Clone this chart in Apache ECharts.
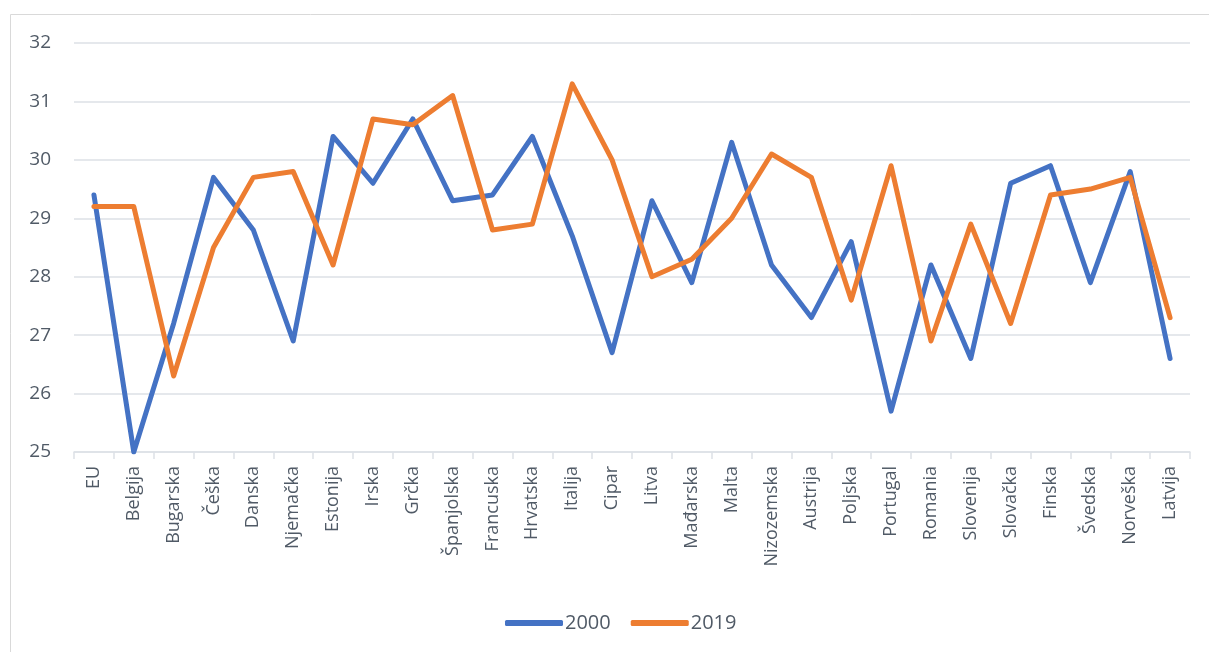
<!DOCTYPE html>
<html>
<head>
<meta charset="utf-8">
<script src="https://cdn.jsdelivr.net/npm/echarts@6/dist/echarts.min.js"></script>
<style>
    html, body { margin: 0; padding: 0; background: #fff; }
    #chart { width: 1209px; height: 652px; }
</style>
</head>
<body>
<div id="chart"></div>
<script>
// zemlje
var categories = ['EU', 'Belgija', 'Bugarska', 'Češka', 'Danska', 'Njemačka', 'Estonija', 'Irska', 'Grčka', 'Španjolska',
    'Francuska', 'Hrvatska', 'Italija', 'Cipar', 'Litva', 'Mađarska', 'Malta', 'Nizozemska', 'Austrija', 'Poljska',
    'Portugal', 'Romania', 'Slovenija', 'Slovačka', 'Finska', 'Švedska', 'Norveška', 'Latvija'];

var values2000 = [29.4, 25.0, 27.2, 29.7, 28.8, 26.9, 30.4, 29.6, 30.7, 29.3,
    29.4, 30.4, 28.7, 26.7, 29.3, 27.9, 30.3, 28.2, 27.3, 28.6,
    25.7, 28.2, 26.6, 29.6, 29.9, 27.9, 29.8, 26.6];

var values2019 = [29.2, 29.2, 26.3, 28.5, 29.7, 29.8, 28.2, 30.7, 30.6, 31.1,
    28.8, 28.9, 31.3, 30.0, 28.0, 28.3, 29.0, 30.1, 29.7, 27.6,
    29.9, 26.9, 28.9, 27.2, 29.4, 29.5, 29.7, 27.3];

var seriesNames = ['2000', '2019'];

var font = 'Open Sans';
var textColor = '#505a66';
var lineColor = '#dde1e6';

var myChart = echarts.init(document.getElementById('chart'));
myChart.setOption({
    animation: false,
    color: ['#4472C4', '#ED7D31'],
    textStyle: { fontFamily: font },
    graphic: [{
        type: 'rect',
        shape: { x: 10.5, y: 14.5, width: 1220, height: 660 },
        style: { fill: 'none', stroke: '#d9d9d9', lineWidth: 1 },
        silent: true
    }],
    legend: {
        top: 608,
        left: 500,
        itemWidth: 58,
        itemHeight: 6,
        itemGap: 20,
        icon: 'roundRect',
        textStyle: { fontFamily: font, fontSize: 20, color: textColor, padding: [0, 0, 0, -3] },
        data: seriesNames
    },
    grid: { left: 74, right: 19, top: 43, bottom: 200 },
    xAxis: {
        type: 'category',
        data: categories,
        axisLine: { lineStyle: { color: lineColor, width: 1.5 } },
        axisTick: { show: true, length: 7, lineStyle: { color: lineColor, width: 1.5 } },
        axisLabel: { rotate: 90, fontSize: 18, color: textColor, fontFamily: font, margin: 14, interval: 0 }
    },
    yAxis: {
        type: 'value',
        min: 25,
        max: 32,
        interval: 1,
        axisLine: { show: false },
        axisTick: { show: false },
        axisLabel: { fontSize: 19, color: textColor, fontFamily: font, margin: 23 },
        splitLine: { lineStyle: { color: lineColor, width: 1.5 } }
    },
    series: [
        {
            name: seriesNames[0],
            type: 'line',
            data: values2000,
            symbol: 'none',
            lineStyle: { width: 5, cap: 'round', join: 'round' }
        },
        {
            name: seriesNames[1],
            type: 'line',
            data: values2019,
            symbol: 'none',
            lineStyle: { width: 5, cap: 'round', join: 'round' }
        }
    ]
});
window.addEventListener('resize', function () {
    myChart.resize();
});
</script>
</body>
</html>
